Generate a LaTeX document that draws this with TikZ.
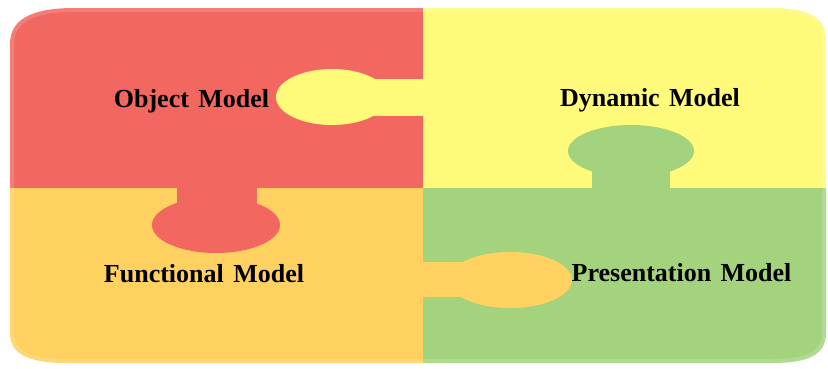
\documentclass[tikz,border=0pt]{standalone}
\usepackage{fontspec}
\setmainfont{Liberation Serif}
\definecolor{pzred}{RGB}{242,104,96}
\definecolor{pzyellow}{RGB}{255,250,122}
\definecolor{pzorange}{RGB}{254,209,96}
\definecolor{pzgreen}{RGB}{163,212,125}
\newcommand\pzlabelfont{\fontsize{26}{28}\selectfont\bfseries}
\newcommand\pzwide[1]{{\spaceskip=0.36em\relax #1}}
\tikzset{
  lbl/.style={anchor=base, inner sep=0pt, font=\pzlabelfont, text=black},
}
\begin{document}
\begin{tikzpicture}[x=1pt,y=-1pt]
\useasboundingbox (0,0) rectangle (828,368);
% outline of the assembled puzzle
\def\puzzleoutline{(10,44) .. controls (10,16) and (38,8) .. (75,8) -- (770,8)
  .. controls (808,8) and (826,16) .. (826,40) -- (826,333)
  .. controls (826,355) and (808,363) .. (772,363) -- (68,363)
  .. controls (30,363) and (10,355) .. (10,333) -- cycle}
\begin{scope}
  \clip \puzzleoutline;
  % four pieces
  \fill[pzred]    (0,0)     rectangle (423,188);
  \fill[pzyellow] (423,0)   rectangle (828,188);
  \fill[pzorange] (0,188)   rectangle (423,368);
  \fill[pzgreen]  (423,188) rectangle (828,368);
  % yellow knob into the red piece
  \fill[pzyellow] (332,97) ellipse [x radius=56, y radius=28];
  \fill[pzyellow] (370,79) rectangle (424,116);
  % green knob into the yellow piece
  \fill[pzgreen] (631,151) ellipse [x radius=63, y radius=26];
  \fill[pzgreen] (592,165) rectangle (670,189);
  % red knob into the orange piece
  \fill[pzred] (216,225) ellipse [x radius=64, y radius=28];
  \fill[pzred] (177,187) rectangle (257,210);
  % orange knob into the green piece
  \fill[pzorange] (510,280) ellipse [x radius=62, y radius=28];
  \fill[pzorange] (422,262) rectangle (470,297);
  % soft light rim
  \draw[white, opacity=0.15, line width=8] \puzzleoutline;
\end{scope}
% labels
\node[lbl] (obj)  at (191.5,107) {\pzwide{Object Model}};
\node[lbl] (dyn)  at (650,106)   {\pzwide{Dynamic Model}};
\node[lbl] (fun)  at (204,282)   {\pzwide{Functional Model}};
\node[lbl] (pres) at (681.5,281) {\pzwide{Presentation Model}};
\end{tikzpicture}
\end{document}
